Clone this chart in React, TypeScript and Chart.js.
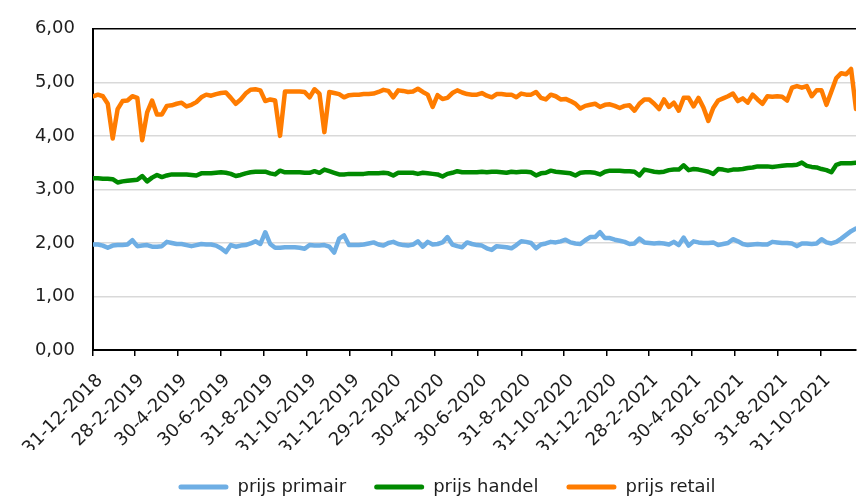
import React, { useEffect, useRef } from "react";
import { Chart, registerables } from "chart.js";

Chart.register(...registerables);

const startDate = "31-12-2018";

const tickLabels = [
  "31-12-2018", "28-2-2019", "30-4-2019", "30-6-2019", "31-8-2019", "31-10-2019",
  "31-12-2019", "29-2-2020", "30-4-2020", "30-6-2020", "31-8-2020", "31-10-2020",
  "31-12-2020", "28-2-2021", "30-4-2021", "30-6-2021", "31-8-2021", "31-10-2021",
];

const seriesNames = ["prijs primair", "prijs handel", "prijs retail"];

// weekly values, starting 31-12-2018
const prijsPrimair = [
  1.97, 1.97, 1.95, 1.91, 1.95, 1.96, 1.96, 1.97, 2.05, 1.94,
  1.95, 1.96, 1.93, 1.93, 1.94, 2.02, 2.0, 1.98, 1.98, 1.96,
  1.94, 1.96, 1.98, 1.97, 1.97, 1.95, 1.9, 1.83, 1.96, 1.93,
  1.95, 1.96, 1.99, 2.03, 1.98, 2.2, 1.98, 1.91, 1.91, 1.92,
  1.92, 1.92, 1.91, 1.89, 1.96, 1.95, 1.95, 1.96, 1.93, 1.82,
  2.08, 2.14, 1.96, 1.96, 1.96, 1.97, 1.99, 2.01, 1.97, 1.95,
  2.0, 2.02, 1.98, 1.96, 1.95, 1.97, 2.03, 1.93, 2.02, 1.97,
  1.98, 2.01, 2.11, 1.97, 1.94, 1.92, 2.01, 1.98, 1.96, 1.95,
  1.9, 1.87, 1.94, 1.93, 1.92, 1.9, 1.96, 2.03, 2.02, 2.0,
  1.9, 1.97, 1.99, 2.02, 2.01, 2.03, 2.06, 2.01, 1.99, 1.98,
  2.05, 2.11, 2.11, 2.2, 2.09, 2.09, 2.06, 2.04, 2.02, 1.98,
  1.99, 2.08, 2.01, 2.0, 1.99, 2.0, 1.99, 1.97, 2.02, 1.96,
  2.1, 1.95, 2.03, 2.01, 2.0, 2.0, 2.01, 1.96, 1.98, 2.0,
  2.07, 2.03, 1.98, 1.96, 1.97, 1.98, 1.97, 1.97, 2.02, 2.01,
  2.0, 2.0, 1.99, 1.94, 1.99, 1.99, 1.98, 1.99, 2.07, 2.01,
  1.99, 2.02, 2.08, 2.15, 2.22, 2.27,
];

const prijsHandel = [
  3.21, 3.21, 3.2, 3.2, 3.19, 3.13, 3.15, 3.16, 3.17, 3.18,
  3.25, 3.15, 3.22, 3.27, 3.23, 3.26, 3.28, 3.28, 3.28, 3.28,
  3.27, 3.26, 3.3, 3.3, 3.3, 3.31, 3.32, 3.31, 3.29, 3.25,
  3.27, 3.3, 3.32, 3.33, 3.33, 3.33, 3.3, 3.28, 3.35, 3.32,
  3.32, 3.32, 3.32, 3.31, 3.31, 3.34, 3.31, 3.37, 3.34, 3.31,
  3.28, 3.28, 3.29, 3.29, 3.29, 3.29, 3.3, 3.3, 3.3, 3.31,
  3.3, 3.26, 3.31, 3.31, 3.31, 3.31, 3.29, 3.31, 3.3, 3.29,
  3.28, 3.24, 3.29, 3.31, 3.34, 3.32, 3.32, 3.32, 3.32, 3.33,
  3.32, 3.33, 3.33, 3.32, 3.31, 3.33, 3.32, 3.33, 3.33, 3.32,
  3.26, 3.3, 3.31, 3.35, 3.33, 3.32, 3.31, 3.3, 3.26, 3.31,
  3.32, 3.32, 3.31, 3.28, 3.33, 3.35, 3.35, 3.35, 3.34, 3.34,
  3.33, 3.26, 3.37, 3.35, 3.33, 3.32, 3.33, 3.36, 3.37, 3.37,
  3.45, 3.36, 3.38, 3.37, 3.35, 3.33, 3.29, 3.38, 3.37, 3.35,
  3.37, 3.37, 3.38, 3.4, 3.41, 3.43, 3.43, 3.43, 3.42, 3.43,
  3.44, 3.45, 3.45, 3.46, 3.5, 3.44, 3.42, 3.41, 3.38, 3.36,
  3.32, 3.46, 3.49, 3.49, 3.49, 3.5,
];

const prijsRetail = [
  4.74, 4.77, 4.74, 4.6, 3.95, 4.5, 4.65, 4.66, 4.74, 4.71,
  3.92, 4.44, 4.66, 4.4, 4.4, 4.56, 4.57, 4.6, 4.62, 4.55,
  4.58, 4.63, 4.72, 4.77, 4.75, 4.78, 4.8, 4.81, 4.71, 4.6,
  4.68, 4.79, 4.86, 4.87, 4.85, 4.65, 4.68, 4.66, 4.0, 4.83,
  4.83, 4.83, 4.83, 4.82, 4.72, 4.87, 4.79, 4.07, 4.82, 4.8,
  4.78, 4.72, 4.76, 4.77, 4.77, 4.78, 4.78, 4.79, 4.82, 4.86,
  4.84, 4.72, 4.85, 4.84, 4.82, 4.83, 4.88, 4.82, 4.77, 4.54,
  4.76, 4.69, 4.71, 4.8, 4.85, 4.81, 4.78, 4.77, 4.77, 4.8,
  4.75, 4.72, 4.78, 4.78, 4.77, 4.77, 4.72, 4.79, 4.77, 4.77,
  4.82, 4.71, 4.68, 4.77, 4.74, 4.68, 4.69, 4.65, 4.6, 4.51,
  4.56, 4.58, 4.6, 4.54, 4.58, 4.59, 4.56, 4.52, 4.56, 4.57,
  4.47, 4.6, 4.68, 4.68, 4.6, 4.5, 4.68, 4.54, 4.62, 4.47,
  4.71, 4.71, 4.55, 4.71, 4.53, 4.28, 4.52, 4.66, 4.7, 4.74,
  4.79, 4.65, 4.7, 4.62, 4.77, 4.68, 4.6, 4.74, 4.73, 4.74,
  4.73, 4.66, 4.9, 4.93, 4.9, 4.93, 4.74, 4.85, 4.85, 4.58,
  4.83, 5.08, 5.17, 5.15, 5.25, 4.5,
];

const COLORS = ["#6EAEE4", "#008A00", "#FF7C00"];
const TEXT = "#1e1e1e";
const FONT = "Verdana, 'DejaVu Sans', sans-serif";

const DAY_MS = 86400000;
function parseDate(s: string): number {
  const [d, m, y] = s.split("-").map(Number);
  return Date.UTC(y, m - 1, d);
}
const t0 = parseDate(startDate);
const dayOf = (s: string) => Math.round((parseDate(s) - t0) / DAY_MS);
const tickDays = tickLabels.map(dayOf);
const labelByDay = new Map<number, string>(tickDays.map((d, i) => [d, tickLabels[i]]));
const weeklyPoints = (vals: number[]) => vals.map((v, i) => ({ x: i * 7, y: v }));

const CANVAS_W = 894;
const CANVAS_H = 506;

export default function App() {
  const ref = useRef<HTMLCanvasElement | null>(null);

  useEffect(() => {
    document.body.style.margin = "0";
    const canvas = ref.current;
    if (!canvas) return;
    const series = [prijsPrimair, prijsHandel, prijsRetail];
    const lastDay = (prijsRetail.length - 1) * 7;
    const chart = new Chart(canvas, {
      type: "line",
      data: {
        datasets: series.map((vals, i) => ({
          label: seriesNames[i],
          data: weeklyPoints(vals),
          borderColor: COLORS[i],
          backgroundColor: COLORS[i],
          borderWidth: 4.5,
          pointRadius: 0,
          tension: 0,
          borderJoinStyle: "round" as const,
          borderCapStyle: "round" as const,
        })),
      },
      options: {
        animation: false,
        responsive: false,
        events: [],
        layout: { padding: { top: 23, left: 0, right: 0, bottom: 0 } },
        scales: {
          x: {
            type: "linear",
            min: 0,
            max: lastDay,
            afterBuildTicks: (s: any) => {
              s.ticks = tickDays.map((v) => ({ value: v }));
            },
            afterFit: (s: any) => {
              s.height = 100;
              s.paddingRight = 38;
            },
            ticks: {
              autoSkip: false,
              minRotation: 45,
              maxRotation: 45,
              padding: 14,
              labelOffset: 7,
              color: TEXT,
              font: { family: FONT, size: 18 },
              callback: (v: any) => labelByDay.get(Number(v)) ?? "",
            },
            grid: {
              display: true,
              drawOnChartArea: false,
              drawTicks: true,
              tickLength: 6,
              color: "#000",
              lineWidth: 1.5,
            },
            border: { display: true, color: "#000", width: 2 },
          },
          y: {
            min: 0,
            max: 6,
            afterFit: (s: any) => {
              s.width = 93;
            },
            ticks: {
              stepSize: 1,
              padding: 18,
              color: TEXT,
              font: { family: FONT, size: 18 },
              callback: (v: any) => Number(v).toFixed(2).replace(".", ","),
            },
            grid: {
              drawTicks: false,
              color: (ctx: any) => (ctx.tick && ctx.tick.value === 6 ? "#000" : "#d9d9d9"),
              lineWidth: 1.5,
            },
            border: { display: true, color: "#000", width: 2 },
          },
        },
        plugins: {
          legend: {
            position: "bottom",
            labels: {
              boxWidth: 50,
              boxHeight: 5,
              padding: 28,
              color: TEXT,
              font: { family: FONT, size: 18 },
              useBorderRadius: true,
              borderRadius: 2.5,
              generateLabels: (c: any) =>
                Chart.defaults.plugins.legend.labels
                  .generateLabels(c)
                  .map((l: any) => ({ ...l, lineWidth: 0, fillStyle: l.strokeStyle })),
            },
          },
          tooltip: { enabled: false },
        },
      },
    } as any);
    return () => chart.destroy();
  }, []);

  return (
    <div style={{ width: 857, height: 497, overflow: "hidden", position: "relative" }}>
      <canvas
        ref={ref}
        width={CANVAS_W}
        height={CANVAS_H}
        style={{ width: CANVAS_W, height: CANVAS_H, display: "block" }}
      />
    </div>
  );
}
